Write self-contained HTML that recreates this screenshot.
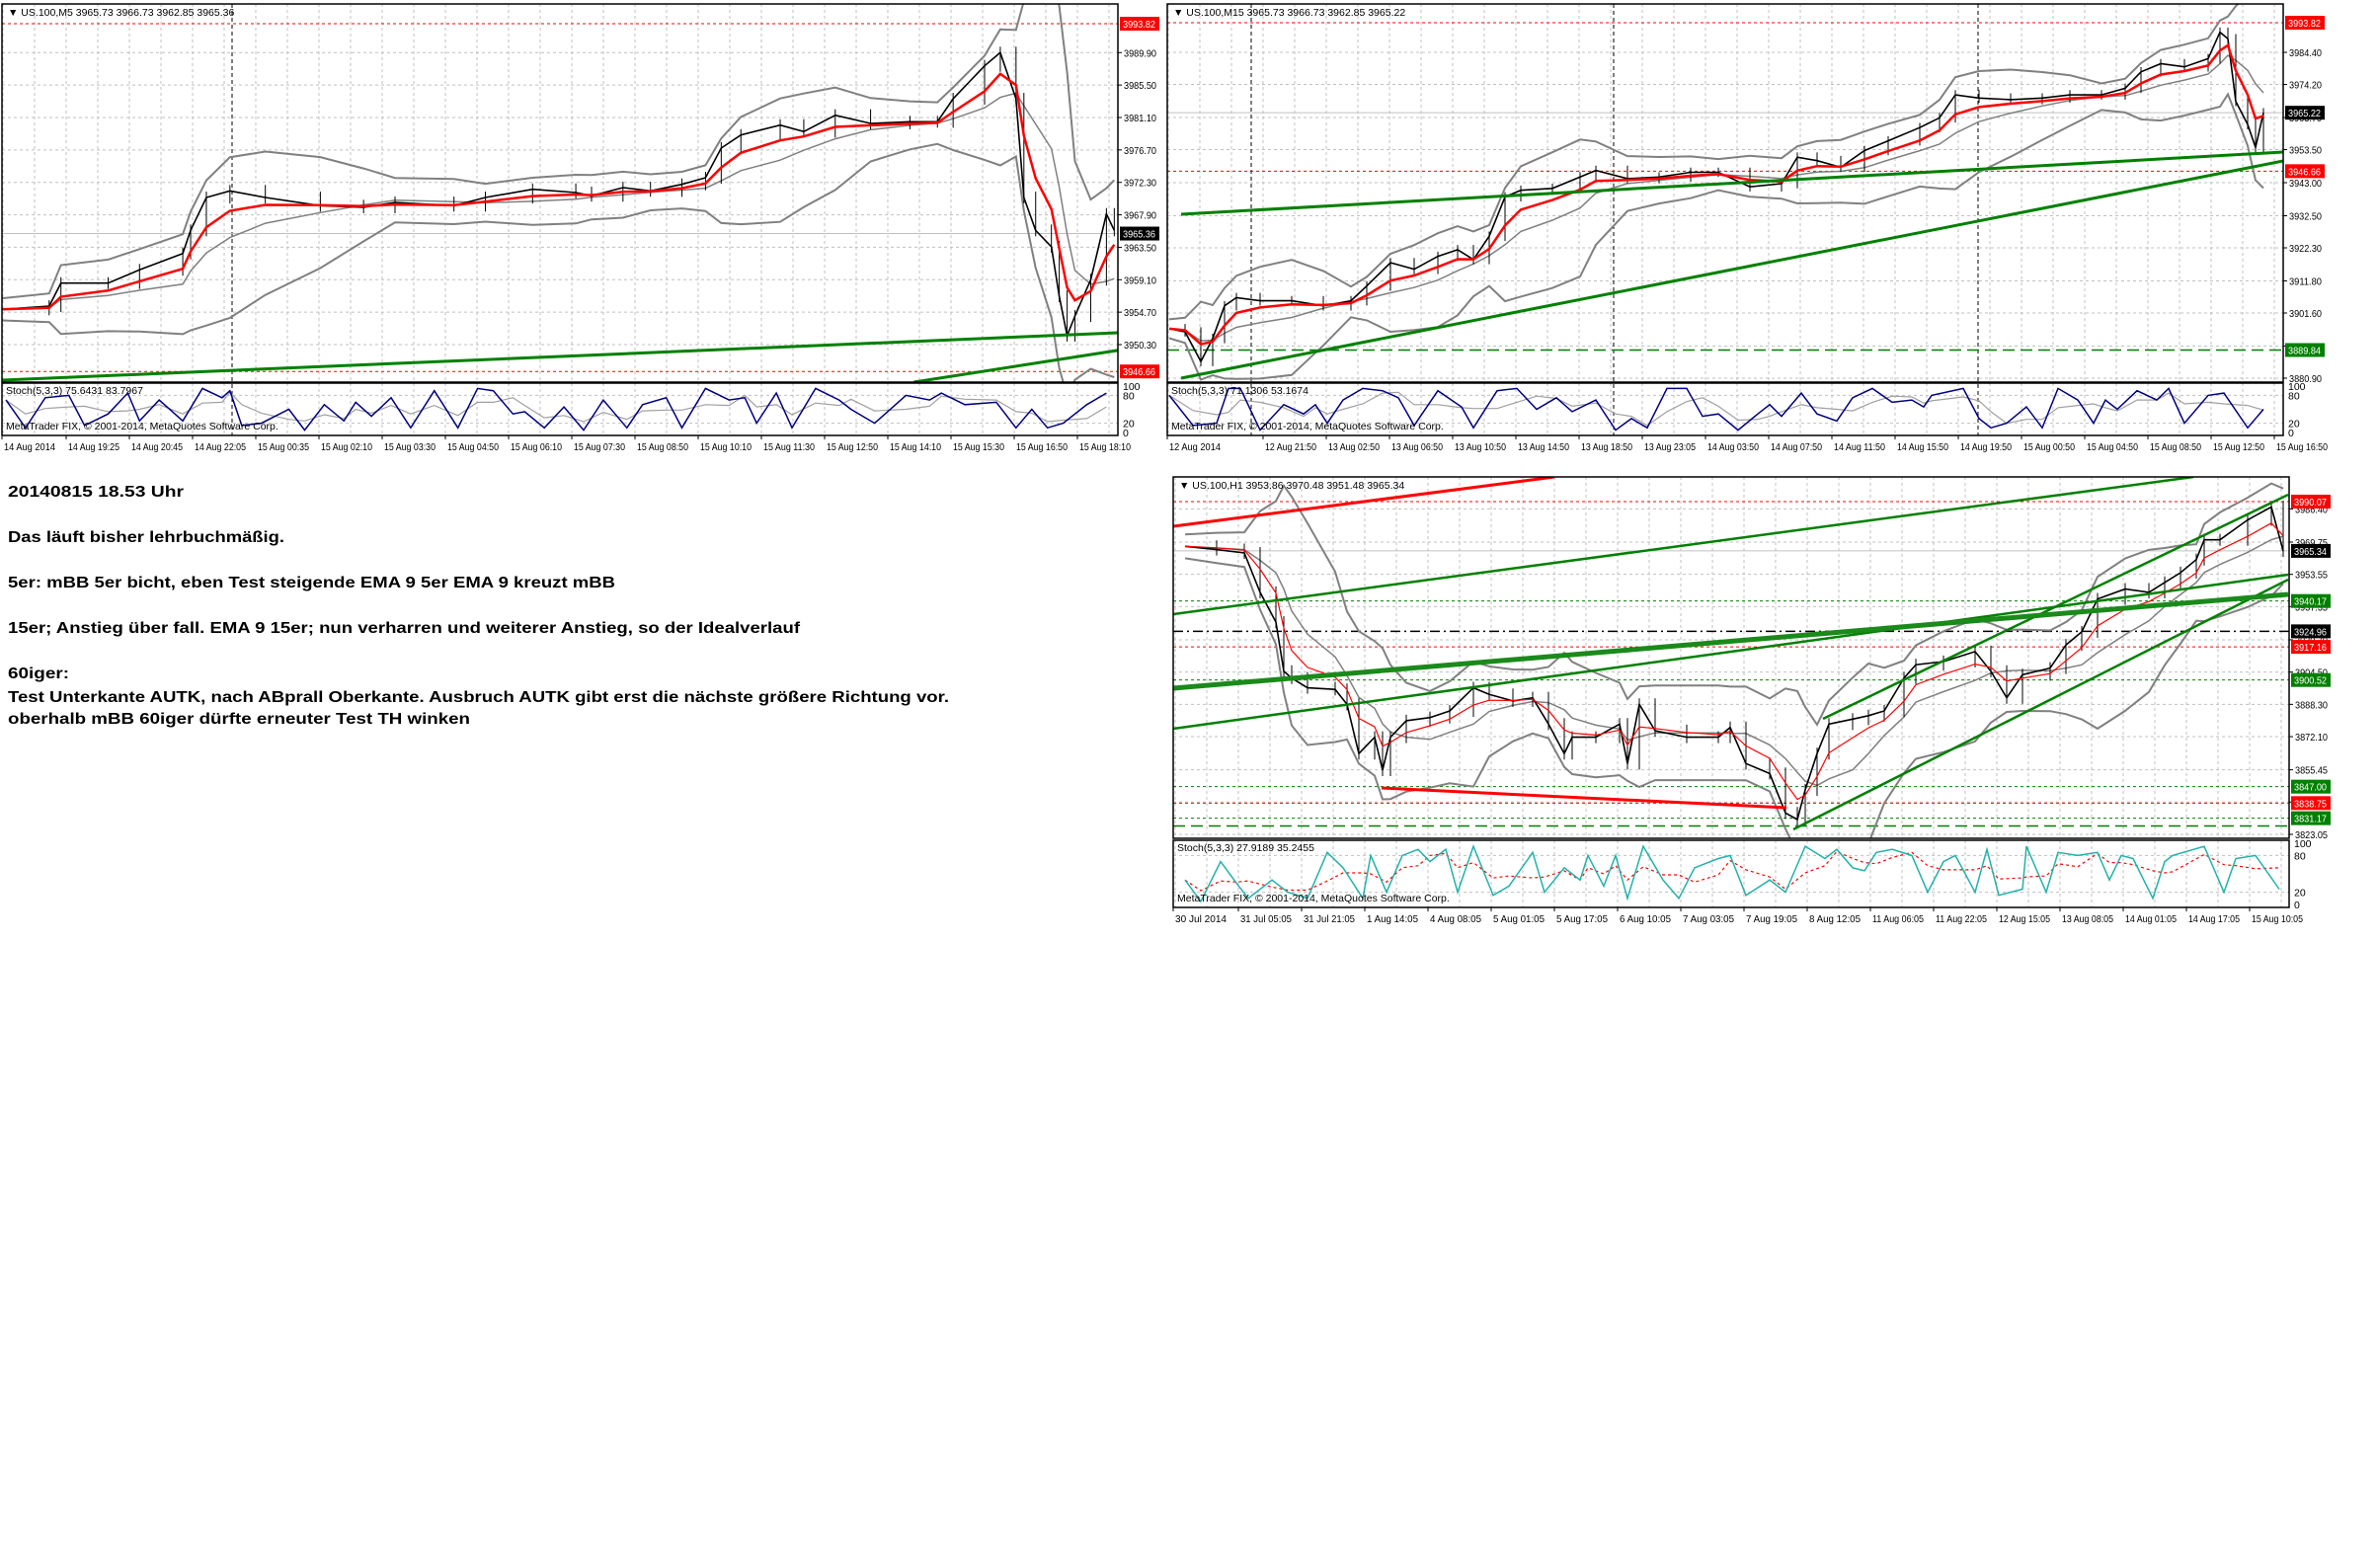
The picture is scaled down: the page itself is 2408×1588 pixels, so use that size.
<!DOCTYPE html>
<html><head><meta charset="utf-8"><title>US.100 charts</title>
<style>
html,body{margin:0;padding:0;background:#fff;}
svg{display:block;}
.lbl{font-family:"Liberation Sans",sans-serif;font-size:10.5px;fill:#000;}
.note{font-family:"Liberation Sans",sans-serif;font-size:16px;font-weight:bold;fill:#000;}
</style></head>
<body>
<svg id="page" xmlns="http://www.w3.org/2000/svg" width="2408" height="1588" viewBox="0 0 2408 1588">
<rect x="0" y="0" width="2408" height="1588" fill="#fff"/>
<g id="notes">
<text class="note" x="8" y="503" textLength="178" lengthAdjust="spacingAndGlyphs">20140815 18.53 Uhr</text>
<text class="note" x="8" y="549" textLength="280" lengthAdjust="spacingAndGlyphs">Das läuft bisher lehrbuchmäßig.</text>
<text class="note" x="8" y="595" textLength="615" lengthAdjust="spacingAndGlyphs">5er: mBB 5er bicht, eben Test steigende EMA 9 5er EMA 9 kreuzt mBB</text>
<text class="note" x="8" y="641" textLength="802" lengthAdjust="spacingAndGlyphs">15er; Anstieg über fall. EMA 9 15er; nun verharren und weiterer Anstieg, so der Idealverlauf</text>
<text class="note" x="8" y="687" textLength="62" lengthAdjust="spacingAndGlyphs">60iger:</text>
<text class="note" x="8" y="711" textLength="953" lengthAdjust="spacingAndGlyphs">Test Unterkante AUTK, nach ABprall Oberkante. Ausbruch AUTK gibt erst die nächste größere Richtung vor.</text>
<text class="note" x="8" y="733" textLength="468" lengthAdjust="spacingAndGlyphs">oberhalb mBB 60iger dürfte erneuter Test TH winken</text>
</g>
</svg>
<script>
// ===== M5 chart data =====
const m5Bars=[0,12,15,27,35,46,48,52,58,67,81,92,100,115,123,135,146,150,158,165,173,179,183,188,198,204,212,221,231,238,242,250,254,258,260,263,267,269,271,273,277,281,283];
const m5Close=[3955.08,3955.52,3958.64,3958.64,3960.44,3962.66,3965.79,3970.25,3971.15,3970.25,3969.14,3968.91,3969.58,3969.14,3970.25,3971.36,3970.92,3970.48,3971.59,3971.15,3972.03,3972.93,3976.95,3978.73,3980.07,3979.18,3981.41,3980.30,3980.52,3980.52,3983.64,3988.10,3989.90,3983.64,3970.25,3965.79,3963.56,3956.86,3951.51,3954.18,3959.10,3968.02,3965.79];
const m5StochBars=[1,6,11,17,21,27,32,35,40,46,51,56,58,61,66,73,77,82,87,90,94,99,104,110,116,121,125,130,133,138,143,148,153,159,163,169,173,179,185,189,192,197,201,207,213,216,222,230,236,239,245,253,258,262,266,270,276,281];
const m5StochVals=[70,10,75,80,15,40,85,25,70,25,95,75,90,15,20,50,5,60,25,65,35,75,10,90,10,95,90,40,45,10,55,5,70,10,60,75,10,95,70,75,20,85,10,95,70,50,20,80,70,85,60,65,10,50,10,20,60,85];
const m5Ticks=[3989.90,3985.50,3981.10,3976.70,3972.30,3967.90,3963.50,3959.10,3954.70,3950.30];
const m5Times=["14 Aug 2014","14 Aug 19:25","14 Aug 20:45","14 Aug 22:05","15 Aug 00:35","15 Aug 02:10","15 Aug 03:30","15 Aug 04:50","15 Aug 06:10","15 Aug 07:30","15 Aug 08:50","15 Aug 10:10","15 Aug 11:30","15 Aug 12:50","15 Aug 14:10","15 Aug 15:30","15 Aug 16:50","15 Aug 18:10"];
const m5Trend=[[0,3945.48,284,3951.91],[232,3945.21,284,3949.53]];

// ===== M15 chart data =====
const m15Bars=[0,4,8,11,14,17,23,31,39,46,50,56,62,68,73,77,81,85,89,97,104,108,116,124,132,139,147,155,159,164,170,176,182,190,195,199,205,213,221,228,236,242,246,251,257,263,266,268,270,273,275,277];
const m15Close=[3896.6,3895.6,3886.2,3893.5,3903.9,3906.5,3905.5,3905.5,3903.9,3905.5,3910.2,3917.6,3915.5,3919.6,3921.7,3918.6,3926.0,3938.5,3940.6,3941.2,3944.8,3946.9,3944.3,3944.8,3946.3,3946.3,3941.7,3942.7,3951.1,3950.0,3947.9,3953.2,3956.3,3960.5,3963.6,3970.9,3969.9,3969.4,3969.9,3970.9,3970.9,3973.0,3978.2,3980.8,3979.8,3982.4,3990.8,3988.7,3968.8,3961.5,3954.2,3965.2];
const m15StochBars=[0,6,12,15,18,23,29,34,37,40,44,49,54,58,62,68,74,77,83,88,93,98,102,108,113,117,121,126,131,135,139,144,149,152,155,160,164,169,173,178,183,188,191,193,201,205,208,212,217,221,225,230,234,237,240,245,250,253,257,263,267,273,277];
const m15StochVals=[80,15,20,95,95,5,60,40,60,20,70,95,90,75,15,90,55,10,90,95,50,75,45,70,5,30,10,95,95,35,40,5,40,60,35,85,40,25,75,95,65,70,55,80,95,30,10,20,55,10,95,70,20,70,50,90,70,95,20,80,85,10,50];
const m15Ticks=[3984.40,3974.20,3963.70,3953.50,3943.00,3932.50,3922.30,3911.80,3901.60,3891.10,3880.90];
const m15Times=["12 Aug 2014","12 Aug 21:50","13 Aug 02:50","13 Aug 06:50","13 Aug 10:50","13 Aug 14:50","13 Aug 18:50","13 Aug 23:05","14 Aug 03:50","14 Aug 07:50","14 Aug 11:50","14 Aug 15:50","14 Aug 19:50","15 Aug 00:50","15 Aug 04:50","15 Aug 08:50","15 Aug 12:50","15 Aug 16:50"];
const m15Trend=[[3,3932.97,282,3952.73],[3,3880.90,282,3949.91]];

// ===== H1 chart data =====
const h1Bars=[0,8,15,19,23,25,27,31,38,41,44,48,50,52,56,62,67,73,77,83,88,92,96,98,104,110,112,115,119,127,135,138,142,148,152,155,157,160,163,169,173,177,182,185,192,200,204,208,212,219,223,227,231,238,244,248,252,256,258,262,269,275,278];
const h1Close=[3967.6,3966.0,3964.3,3944.5,3929.6,3904.9,3901.5,3896.6,3895.8,3888.3,3863.6,3871.8,3855.3,3871.8,3880.1,3881.7,3885.0,3896.6,3893.3,3890.0,3891.6,3878.4,3863.6,3871.8,3871.8,3878.4,3858.6,3888.3,3875.1,3871.8,3871.8,3876.7,3858.6,3853.6,3833.8,3830.5,3845.4,3863.6,3878.4,3880.9,3882.6,3885.0,3901.5,3908.2,3909.8,3914.8,3904.9,3891.6,3903.2,3906.5,3918.1,3924.7,3941.2,3946.2,3944.5,3949.5,3954.4,3961.0,3970.9,3970.9,3980.9,3987.4,3965.3];
const h1StochBars=[0,4,9,13,16,22,26,31,36,40,45,47,51,55,59,62,66,69,73,78,82,88,91,96,100,102,106,109,112,116,121,125,129,135,138,142,148,152,157,162,165,169,172,175,179,184,188,192,195,200,203,206,212,213,218,221,226,231,234,237,240,245,248,250,258,263,266,271,277];
const h1StochVals=[40,5,70,35,10,40,20,10,85,60,10,80,20,80,90,70,90,20,95,15,30,85,20,60,40,80,30,80,10,95,40,10,60,75,80,15,40,20,95,75,90,60,55,85,90,80,20,70,80,20,90,15,25,95,20,85,80,85,40,80,75,10,70,80,95,20,75,80,25];
const h1Ticks=[3986.40,3969.75,3953.55,3937.35,3920.70,3904.50,3888.30,3872.10,3855.45,3839.25,3823.05];
const h1Times=["30 Jul 2014","31 Jul 05:05","31 Jul 21:05","1 Aug 14:05","4 Aug 08:05","5 Aug 01:05","5 Aug 17:05","6 Aug 10:05","7 Aug 03:05","7 Aug 19:05","8 Aug 12:05","11 Aug 06:05","11 Aug 22:05","12 Aug 15:05","13 Aug 08:05","14 Aug 01:05","14 Aug 17:05","15 Aug 10:05"];
const h1RedTrend=[[-3,3977.68,93.5,4002.46],[49.75,3846.35,152.25,3836.43]];
const h1GreenTrend=[[-3,3933.57,255.25,4002.46],[-3,3876.08,279.25,3953.39],[161.5,3881.03,279.25,3993.54],[154,3825.53,279.25,3950.92]];
const h1ThickTrend=[[-3,3896.40,279.25,3943.48]];

const NS="http://www.w3.org/2000/svg";
const page=document.getElementById('page');
function mk(parent,tag,attrs){const e=document.createElementNS(NS,tag);for(const k in attrs)e.setAttribute(k,attrs[k]);parent.appendChild(e);return e;}
function xAxis(left,bw){return b=>left+b*bw;}
function yAxis(y0,p0,k){return p=>y0+(p0-p)*k;}
function emaOf(c,a){const r=[];let v=c[0];for(let i=0;i<c.length;i++){v=v+a*(c[i]-v);r.push(v);}return r;}
function bandsOf(c,w,pad){const up=[],lo=[],mid=[];for(let i=0;i<c.length;i++){const s=c.slice(Math.max(0,i-w+1),i+1);const m=s.reduce((a,b)=>a+b,0)/s.length;const sd=Math.sqrt(s.reduce((a,b)=>a+(b-m)*(b-m),0)/s.length);up.push(m+2*sd+pad);lo.push(m-2*sd-pad);mid.push(m);}return{up,lo,mid};}
function smaOf(v,n){return v.map((x,i)=>{const s=v.slice(Math.max(0,i-n+1),i+1);return s.reduce((a,b)=>a+b,0)/s.length;});}
function pts(bars,vals,X,Y){return bars.map((b,i)=>X(b).toFixed(1)+','+Y(vals[i]).toFixed(1)).join(' ');}

function drawChart(c){
  const g=mk(page,'g',{});
  
  
  const X=xAxis(c.x0,c.bw), Y=yAxis(c.y0,c.p0,c.k);
  const SY=v=>c.sT+3+(100-v)/100*(c.sB-c.sT-6);
  const clipId=c.name+'-clip';
  const defs=mk(g,'defs',{});
  const cp=mk(defs,'clipPath',{id:clipId});
  mk(cp,'rect',{x:c.L,y:c.T,width:c.R-c.L,height:c.B-c.T});
  const cps=mk(defs,'clipPath',{id:clipId+'s'});
  mk(cps,'rect',{x:c.L,y:c.sT,width:c.R-c.L,height:c.sB-c.sT});
  const grid=mk(g,'g',{stroke:'#c0c0c0','stroke-width':1,'stroke-dasharray':'3,3'});
  
  
  for(let x=c.vg;x<c.R;x+=32){mk(grid,'line',{x1:x,y1:c.T,x2:x,y2:c.B});mk(grid,'line',{x1:x,y1:c.sT,x2:x,y2:c.sB});}
  c.ticks.forEach(p=>{const y=Y(p);if(y>c.T&&y<c.B)mk(grid,'line',{x1:c.L,y1:y,x2:c.R,y2:y});});
  [80,20].forEach(v=>mk(grid,'line',{x1:c.L,y1:SY(v),x2:c.R,y2:SY(v)}));
  c.seps.forEach(x=>{const s=mk(g,'line',{x1:x,y1:c.T,x2:x,y2:c.sB,stroke:'#000','stroke-dasharray':'4,3'});
    
    });
  const plot=mk(g,'g',{'clip-path':'url(#'+clipId+')'});
  
  
  c.hlines.forEach(h=>{const l=mk(plot,'line',{x1:c.L,y1:Y(h[0]),x2:c.R,y2:Y(h[0]),stroke:h[1],'stroke-width':h[3]||1,'stroke-dasharray':h[2]});
    
    });
  const bd=bandsOf(c.close,c.bandW,c.pad);
  [['up',2],['lo',2],['mid',1.5]].forEach(([k,w])=>{const l=mk(plot,'polyline',{points:pts(c.bars,bd[k],X,Y),fill:'none',stroke:'#808080','stroke-width':w});
    
    });
  const pl=mk(plot,'polyline',{points:pts(c.bars,c.close,X,Y),fill:'none',stroke:'#000','stroke-width':1.6});
  
  
  c.bars.forEach((b,i)=>{if(i===0)return;const a=c.close[i-1],d=c.close[i];const w=mk(plot,'line',{x1:X(b),y1:Y(Math.max(a,d)+c.wick),x2:X(b),y2:Y(Math.min(a,d)-c.wick),stroke:'#000','stroke-width':1});
    
    });
  const em=mk(plot,'polyline',{points:pts(c.bars,emaOf(c.close,0.45),X,Y),fill:'none',stroke:'#ff0000','stroke-width':c.emaW});
  
  
  c.trends.forEach(t=>{const l=mk(plot,'line',{x1:X(t[0]),y1:Y(t[1]),x2:X(t[2]),y2:Y(t[3]),stroke:t[4],'stroke-width':t[5]});
    
    });
  const sp=mk(g,'g',{'clip-path':'url(#'+clipId+'s)'});
  
  
  const sig=mk(sp,'polyline',{points:pts(c.stBars,smaOf(c.stVals,3),X,SY),fill:'none',stroke:c.sigCol,'stroke-width':1.2,'stroke-dasharray':c.sigDash});
  
  
  const mn=mk(sp,'polyline',{points:pts(c.stBars,c.stVals,X,SY),fill:'none',stroke:c.mainCol,'stroke-width':1.5});
  
  
  const f1=mk(g,'rect',{x:c.L,y:c.T,width:c.R-c.L,height:c.B-c.T,fill:'none',stroke:'#000','stroke-width':1.5});
  
  
  const f2=mk(g,'rect',{x:c.L,y:c.sT,width:c.R-c.L,height:c.sB-c.sT,fill:'none',stroke:'#000','stroke-width':1.5});
  
  
  c.ticks.forEach(p=>{const y=Y(p);if(y<c.T-2||y>c.B+2)return;mk(g,'line',{x1:c.R,y1:y,x2:c.R+4,y2:y,stroke:'#000'});
    const t=mk(g,'text',{x:c.R+6,y:y+4,class:'lbl',textLength:33,lengthAdjust:'spacingAndGlyphs'});t.textContent=p.toFixed(2);
    
    });
  c.boxes.forEach(b=>{const y=Y(b[0]);const r=mk(g,'rect',{x:c.R+2,y:y-7,width:40,height:14,fill:b[1]});
    
    
    const t=mk(g,'text',{x:c.R+5,y:y+4,class:'lbl',style:'fill:#fff',textLength:33,lengthAdjust:'spacingAndGlyphs'});t.textContent=b[0].toFixed(2);
    
    });
  [['100',100],['80',80],['20',20],['0',0]].forEach(([s,v])=>{const t=mk(g,'text',{x:c.R+5,y:SY(v)+4,class:'lbl'});t.textContent=s;
    
    });
  c.times.forEach((s,i)=>{const x=i===0?c.L:c.tx0+(i-1)*64;mk(g,'line',{x1:x,y1:c.sB,x2:x,y2:c.sB+4,stroke:'#000'});
    const t=mk(g,'text',{x:x+2,y:c.sB+15,class:'lbl',textLength:52,lengthAdjust:'spacingAndGlyphs'});t.textContent=s;
    
    });
  const tt=mk(g,'text',{x:c.L+6,y:c.T+12,class:'lbl'});tt.textContent='\u25BC '+c.title;
  
  
  const st=mk(g,'text',{x:c.L+4,y:c.sT+11,class:'lbl'});st.textContent=c.stTitle;
  
  
  const cr=mk(g,'text',{x:c.L+4,y:c.sB-6,class:'lbl'});cr.textContent='MetaTrader FIX, \u00A9 2001-2014, MetaQuotes Software Corp.';
  
  
}

drawChart({name:'chart-m5',L:2,R:1132,T:4,B:387,sT:388,sB:441,x0:2,bw:3.98,y0:24,p0:3993.82,k:7.468,vg:3,tx0:67,
  ticks:m5Ticks,times:m5Times,bars:m5Bars,close:m5Close,stBars:m5StochBars,stVals:m5StochVals,
  bandW:6,pad:1.5,wick:0.8,emaW:2.5,seps:[235],
  hlines:[[3993.82,'#ff0000','3,3'],[3946.66,'#ff0000','3,3'],[3965.36,'#c0c0c0','']],
  trends:m5Trend.map(t=>t.concat(['#008000',3])),
  boxes:[[3993.82,'#ff0000'],[3946.66,'#ff0000'],[3965.36,'#000']],
  mainCol:'#000080',sigCol:'#a0a0a0',sigDash:'',
  title:'US.100,M5  3965.73 3966.73 3962.85 3965.36',stTitle:'Stoch(5,3,3) 75.6431 83.7967'});

drawChart({name:'chart-m15',L:1182,R:2312,T:4,B:387,sT:388,sB:441,x0:1184,bw:4,y0:23,p0:3993.82,k:3.188,vg:1183,tx0:1279,
  ticks:m15Ticks,times:m15Times,bars:m15Bars,close:m15Close,stBars:m15StochBars,stVals:m15StochVals,
  bandW:6,pad:3,wick:1.5,emaW:2.5,seps:[1267,1634,2003],
  hlines:[[3993.82,'#ff0000','3,3'],[3946.66,'#ff0000','3,3'],[3965.22,'#c0c0c0',''],[3889.84,'#008000','12,6',1.5]],
  trends:m15Trend.map(t=>t.concat(['#008000',3])),
  boxes:[[3993.82,'#ff0000'],[3946.66,'#ff0000'],[3965.22,'#000'],[3889.84,'#008000']],
  mainCol:'#000080',sigCol:'#a0a0a0',sigDash:'',
  title:'US.100,M15  3965.73 3966.73 3962.85 3965.22',stTitle:'Stoch(5,3,3) 71.1306 53.1674'});

drawChart({name:'chart-h1',L:1188,R:2318,T:483,B:849,sT:851,sB:919,x0:1200,bw:4,y0:508,p0:3990.07,k:2.0177,vg:1190,tx0:1254,
  ticks:h1Ticks,times:h1Times,bars:h1Bars,close:h1Close,stBars:h1StochBars,stVals:h1StochVals,
  bandW:6,pad:6,wick:3,emaW:1.2,seps:[],
  hlines:[[3990.07,'#ff0000','3,3'],[3917.16,'#ff0000','3,3'],[3838.75,'#ff0000','3,3'],[3940.17,'#008000','3,3'],[3900.52,'#008000','3,3'],[3847.00,'#008000','3,3'],[3831.17,'#008000','3,3'],[3827.25,'#008000','12,6',1.5],[3924.96,'#000','10,4,2,4',1.5],[3965.34,'#c0c0c0','']],
  trends:h1RedTrend.map(t=>t.concat(['#ff0000',3])).concat(h1GreenTrend.map(t=>t.concat(['#008000',2.5]))).concat(h1ThickTrend.map(t=>t.concat(['#1a8a1a',5]))),
  boxes:[[3990.07,'#ff0000'],[3965.34,'#000'],[3940.17,'#008000'],[3924.96,'#000'],[3917.16,'#ff0000'],[3900.52,'#008000'],[3847.00,'#008000'],[3838.75,'#ff0000'],[3831.17,'#008000']],
  mainCol:'#20b2aa',sigCol:'#ff0000',sigDash:'3,3',
  title:'US.100,H1  3953.86 3970.48 3951.48 3965.34',stTitle:'Stoch(5,3,3) 27.9189 35.2455'});
</script>
</body></html>
